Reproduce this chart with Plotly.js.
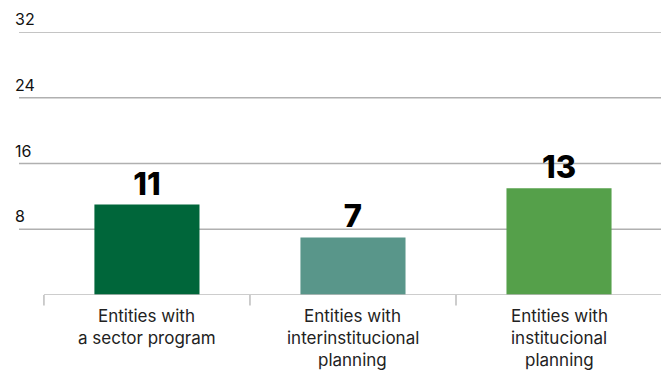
<!DOCTYPE html>
<html><head><meta charset="utf-8">
<script src="https://cdn.plot.ly/plotly-3.0.1.min.js"></script>
<style>html,body{margin:0;padding:0;background:#fff}#chart{width:661px;height:370px}</style>
</head><body><div id="chart"></div>
<script>
const categories = ["Entities with<br>a sector program", "Entities with<br>interinstitucional<br>planning", "Entities with<br>institucional<br>planning"];
const values = [11, 7, 13];
const barColors = ["#00663a", "#59968a", "#55a04a"];
const yTicks = [8, 16, 24, 32];

const xIdx = categories.map((_, i) => i);
const trace = {
  type: "bar", x: xIdx, y: values,
  marker: {color: barColors},
  width: 0.51,
  text: values.map(String), textposition: "outside",
  textfont: {family: "Inter, 'Liberation Sans', sans-serif", size: 31, color: "#000", weight: 800},
  cliponaxis: false, hoverinfo: "skip"
};
const shapes = [];
yTicks.forEach(t => shapes.push({type: "line", xref: "paper", yref: "y", x0: 0, x1: 1, y0: t, y1: t, layer: "below", line: {color: "#b0b0b0", width: 1.5}}));
shapes.push({type: "line", xref: "x", yref: "y", x0: -0.5, x1: 2.5, y0: 0, y1: 0, line: {color: "#bdbdbd", width: 1.5}});
[-0.5, 0.5, 1.5].forEach(v => shapes.push({type: "line", xref: "x", yref: "paper", x0: v, x1: v, y0: 0, y1: -0.04, line: {color: "#bdbdbd", width: 1.5}}));
const annotations = yTicks.map(t => ({xref: "paper", yref: "y", x: 0, y: t, xanchor: "left", yanchor: "bottom", xshift: -6, yshift: 1, showarrow: false, text: String(t), font: {family: "Inter, sans-serif", size: 16, color: "#111"}}));
categories.forEach((c, i) => {
  c.split("<br>").forEach((line, j) => {
    annotations.push({xref: "x", yref: "paper", x: i, y: 0, yanchor: "middle", xanchor: "center", yshift: -21 - 22 * j, showarrow: false, text: line, font: {family: "Inter, sans-serif", size: 17, color: "#222"}});
  });
});
const layout = {
  width: 661, height: 370,
  margin: {l: 19, r: 0, t: 32, b: 75},
  paper_bgcolor: "#fff", plot_bgcolor: "#fff",
  showlegend: false,
  xaxis: {range: [-0.621, 2.495], tickvals: xIdx, showticklabels: false, showgrid: false, zeroline: false, showline: false, ticks: "", fixedrange: true},
  yaxis: {range: [0, 32], tickvals: yTicks, showticklabels: false, showgrid: false, zeroline: false, showline: false, fixedrange: true},
  shapes: shapes, annotations: annotations
};
Plotly.newPlot("chart", [trace], layout, {displayModeBar: false, staticPlot: true});
</script></body></html>
